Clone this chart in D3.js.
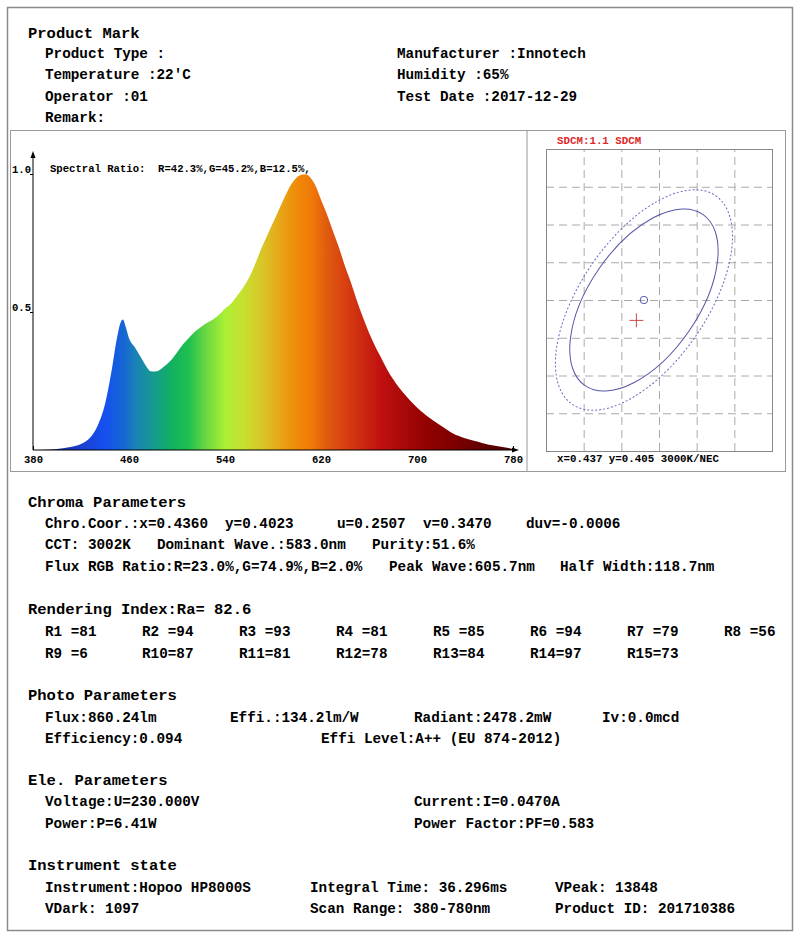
<!DOCTYPE html>
<html>
<head>
<meta charset="utf-8">
<script src="https://cdn.jsdelivr.net/npm/d3@7"></script>
<style>
  body { margin: 0; background: #fff; }
  text { font-family: "Liberation Mono", "Courier New", monospace; font-weight: bold; fill: #000; white-space: pre; }
</style>
</head>
<body>
<div id="chart"></div>
<script>
// spectrum (relative intensity)
var wavelengths = [380, 390, 400, 410, 420, 425, 430, 435, 440, 445, 450, 453, 455, 457, 460, 465, 470, 475, 478,
  482, 487, 490, 495, 500, 505, 510, 515, 520, 525, 530, 535, 540, 545, 550, 555, 560, 565, 570, 575, 580, 585,
  590, 595, 600, 605, 608, 610, 615, 620, 625, 630, 635, 640, 645, 650, 655, 660, 665, 670, 675, 680, 690, 700,
  710, 720, 730, 740, 750, 760, 770, 780];
var intensity = [0, 0.001, 0.004, 0.01, 0.022, 0.034, 0.058, 0.10, 0.166, 0.275, 0.407, 0.462, 0.473, 0.450, 0.405,
  0.371, 0.335, 0.299, 0.285, 0.284, 0.294, 0.305, 0.325, 0.353, 0.383, 0.407, 0.429, 0.446, 0.461, 0.473, 0.49,
  0.513, 0.53, 0.558, 0.588, 0.624, 0.672, 0.727, 0.775, 0.823, 0.871, 0.919, 0.961, 0.988, 0.998, 0.998, 0.992,
  0.961, 0.907, 0.853, 0.793, 0.733, 0.666, 0.606, 0.54, 0.48, 0.425, 0.377, 0.335, 0.293, 0.257, 0.20, 0.154,
  0.118, 0.088, 0.06, 0.043, 0.031, 0.019, 0.012, 0.004];
var xTicks = [380, 460, 540, 620, 700, 780];
var yTicks = [0.5, 1.0];

// spectral colour stops (wavelength, colour)
var colorWaves = [400, 420, 440, 455, 465, 480, 495, 510, 525, 540, 555, 570, 585, 600, 612, 625, 640, 655, 670, 690, 710, 730, 760, 780];
var colorHex = ["#1a2a9a", "#1a3fcf", "#1550f0", "#1565d5", "#1a80b8", "#159a90", "#12b060", "#20c050", "#70d840",
  "#aaf035", "#c8e030", "#d8c828", "#e6a818", "#f08a08", "#f07a08", "#e05a10", "#d84010", "#cc2810", "#c01010",
  "#a80808", "#900000", "#800000", "#5a0000", "#500000"];

// SDCM chromaticity plot
var gridX = [0.429, 0.434, 0.439, 0.444, 0.449];
var gridY = [0.390, 0.395, 0.400, 0.405, 0.410, 0.415, 0.420];
var ellipseCenter = [0.437, 0.405];
var ellipseA = [0.0138, 0.0168];
var ellipseB = [0.00725, 0.00836];
var ellipseAngle = 55.5;
var measuredPoint = [0.4360, 0.4023];

// report text
var headings = ["Product Mark", "Chroma Parameters", "Rendering Index:Ra= 82.6", "Photo Parameters", "Ele. Parameters", "Instrument state"];
var productLines = [["Product Type :", "Manufacturer :Innotech"], ["Temperature :22'C", "Humidity :65%"],
  ["Operator :01", "Test Date :2017-12-29"], ["Remark:"]];
var chromaLines = [["Chro.Coor.:x=0.4360", "y=0.4023", "u=0.2507", "v=0.3470", "duv=-0.0006"],
  ["CCT: 3002K", "Dominant Wave.:583.0nm", "Purity:51.6%"],
  ["Flux RGB Ratio:R=23.0%,G=74.9%,B=2.0%", "Peak Wave:605.7nm", "Half Width:118.7nm"]];
var renderIndex = [81, 94, 93, 81, 85, 94, 79, 56, 6, 87, 81, 78, 84, 97, 73];
var photoLines = [["Flux:860.24lm", "Effi.:134.2lm/W", "Radiant:2478.2mW", "Iv:0.0mcd"],
  ["Efficiency:0.094", "Effi Level:A++ (EU 874-2012)"]];
var eleLines = [["Voltage:U=230.000V", "Current:I=0.0470A"], ["Power:P=6.41W", "Power Factor:PF=0.583"]];
var instrumentLines = [["Instrument:Hopoo HP8000S", "Integral Time: 36.296ms", "VPeak: 13848"],
  ["VDark: 1097", "Scan Range: 380-780nm", "Product ID: 201710386"]];

var width = 800, height = 937;

var svg = d3.select('#chart').append('svg')
  .attr('width', width)
  .attr('height', height);

// frames
svg.append('rect').attr('x', 7.5).attr('y', 7.5).attr('width', 785).attr('height', 923)
  .attr('fill', 'none').attr('stroke', '#8a8a8a').attr('stroke-width', 1.5);
svg.append('rect').attr('x', 10.5).attr('y', 130.5).attr('width', 775).attr('height', 341)
  .attr('fill', 'none').attr('stroke', '#999').attr('stroke-width', 1);
svg.append('line').attr('x1', 527).attr('x2', 527).attr('y1', 130.5).attr('y2', 471.5)
  .attr('stroke', '#999');

// ---------- spectrum ----------
var sx = d3.scaleLinear().domain([380, 780]).range([33, 513]);
var sy = d3.scaleLinear().domain([0, 1]).range([450, 174]);

var defs = svg.append('defs');
var grad = defs.append('linearGradient').attr('id', 'spec')
  .attr('gradientUnits', 'userSpaceOnUse')
  .attr('x1', sx(380)).attr('x2', sx(780)).attr('y1', 0).attr('y2', 0);
grad.selectAll('stop').data(colorWaves).enter().append('stop')
  .attr('offset', d => (d - 380) / 400)
  .attr('stop-color', (d, i) => colorHex[i]);

var xAxis = d3.axisBottom(sx).tickValues(xTicks).tickSizeInner(-4).tickSizeOuter(0).tickPadding(5);
var gx = svg.append('g').attr('transform', 'translate(0,' + sy(0) + ')').call(xAxis);
gx.select('.domain').remove();
gx.selectAll('text').style('font-size', '10.6px').attr('fill', '#000');
gx.selectAll('line').attr('stroke', '#000');

var yAxis = d3.axisLeft(sy).tickValues(yTicks).tickSize(3).tickFormat(d3.format('.1f'));
var gy = svg.append('g').attr('transform', 'translate(' + sx(380) + ',0)').call(yAxis);
gy.select('.domain').remove();
gy.selectAll('text').style('font-size', '10.6px').attr('x', -2).attr('dy', '-0.15em').attr('fill', '#000');
gy.selectAll('line').attr('stroke', '#000');

var spectrum = wavelengths.map((w, i) => [w, intensity[i]]);
var area = d3.area()
  .x(d => sx(d[0]))
  .y0(sy(0))
  .y1(d => sy(d[1]))
  .curve(d3.curveMonotoneX);
svg.append('path').datum(spectrum).attr('d', area).attr('fill', 'url(#spec)');

// axis lines with arrows
svg.append('line').attr('x1', sx(380)).attr('x2', sx(380)).attr('y1', sy(0)).attr('y2', 154)
  .attr('stroke', '#000');
svg.append('path').attr('d', 'M' + sx(380) + ',151 l-2.5,7 h5 z').attr('fill', '#000');
svg.append('line').attr('x1', sx(380)).attr('x2', 516).attr('y1', sy(0)).attr('y2', sy(0))
  .attr('stroke', '#000');
svg.append('path').attr('d', 'M519,' + sy(0) + ' l-7,-2.5 v5 z').attr('fill', '#000');

svg.append('text').attr('x', 50).attr('y', 172).style('font-size', '10.6px')
  .text('Spectral Ratio:  R=42.3%,G=45.2%,B=12.5%,');

// ---------- SDCM ----------
var cxs = d3.scaleLinear().domain([0.424, 0.454]).range([546, 772]);
var cys = d3.scaleLinear().domain([0.385, 0.425]).range([451, 149]);

var gGridX = svg.append('g').attr('transform', 'translate(0,' + cys(0.385) + ')')
  .call(d3.axisBottom(cxs).tickValues(gridX).tickSize(-(cys(0.385) - cys(0.425))).tickFormat(''));
var gGridY = svg.append('g').attr('transform', 'translate(' + cxs(0.424) + ',0)')
  .call(d3.axisLeft(cys).tickValues(gridY).tickSize(-(cxs(0.454) - cxs(0.424))).tickFormat(''));
[gGridX, gGridY].forEach(g => {
  g.select('.domain').remove();
  g.selectAll('line').attr('stroke', '#aaa').attr('stroke-dasharray', '8,5');
});
svg.append('rect').attr('x', cxs(0.424) + 0.5).attr('y', cys(0.425) + 0.5)
  .attr('width', cxs(0.454) - cxs(0.424)).attr('height', cys(0.385) - cys(0.425))
  .attr('fill', 'none').attr('stroke', '#888');

var ecx = cxs(ellipseCenter[0]), ecy = cys(ellipseCenter[1]);
svg.selectAll('ellipse.sdcm').data(ellipseA).enter().append('ellipse')
  .attr('class', 'sdcm')
  .attr('cx', ecx).attr('cy', ecy)
  .attr('rx', d => cxs(ellipseCenter[0] + d) - ecx)
  .attr('ry', (d, i) => ecy - cys(ellipseCenter[1] + ellipseB[i]))
  .attr('transform', 'rotate(' + (-ellipseAngle) + ',' + ecx + ',' + ecy + ')')
  .attr('fill', 'none')
  .attr('stroke', (d, i) => i == 0 ? '#5656a8' : '#6a6ac0')
  .attr('stroke-width', 1)
  .attr('stroke-dasharray', (d, i) => i == 0 ? null : '2,2');

svg.append('circle').attr('cx', ecx).attr('cy', ecy).attr('r', 3.7)
  .attr('fill', 'none').attr('stroke', '#5656b0');

var mx = cxs(measuredPoint[0]), my = cys(measuredPoint[1]);
svg.append('path').attr('d', 'M' + (mx - 7) + ',' + my + 'h14M' + mx + ',' + (my - 7) + 'v14')
  .attr('stroke', '#d04848').attr('stroke-width', 1);

svg.append('text').attr('x', 557).attr('y', 144).style('font-size', '10.8px')
  .style('fill', '#e02828').text('SDCM:1.1 SDCM');
svg.append('text').attr('x', 557).attr('y', 462).style('font-size', '10.8px')
  .text('x=0.437 y=0.405 3000K/NEC');

// ---------- report text ----------
var headingY = [33, 502, 609, 695, 780, 865];
svg.selectAll('text.head').data(headings).enter().append('text')
  .attr('class', 'head')
  .attr('x', 28).attr('y', (d, i) => headingY[i] + 5.3)
  .style('font-size', '15.5px')
  .text(d => d);

function block(lines, colX, rowY) {
  lines.forEach((line, r) => {
    line.forEach((t, c) => {
      var xs = Array.isArray(colX[0]) ? colX[r] : colX;
      svg.append('text').attr('x', xs[c]).attr('y', rowY[r] + 5)
        .style('font-size', '14.3px').text(t);
    });
  });
}

block(productLines, [45, 397], [53, 74, 96, 117]);
block(chromaLines, [[45, 225, 337, 423, 526], [45, 157, 372], [45, 389, 560]], [523, 544, 566]);

var renderLabels = renderIndex.map((v, i) => ('R' + (i + 1)).padEnd(3, ' ') + '=' + v);
svg.selectAll('text.ri').data(renderLabels).enter().append('text')
  .attr('class', 'ri')
  .attr('x', (d, i) => 45 + (i % 8) * 97)
  .attr('y', (d, i) => (i < 8 ? 631 : 653) + 5)
  .style('font-size', '14.3px')
  .text(d => d);

block(photoLines, [[45, 230, 414, 602], [45, 321]], [717, 738]);
block(eleLines, [45, 414], [801, 823]);
block(instrumentLines, [45, 310, 555], [887, 908]);
</script>
</body>
</html>
